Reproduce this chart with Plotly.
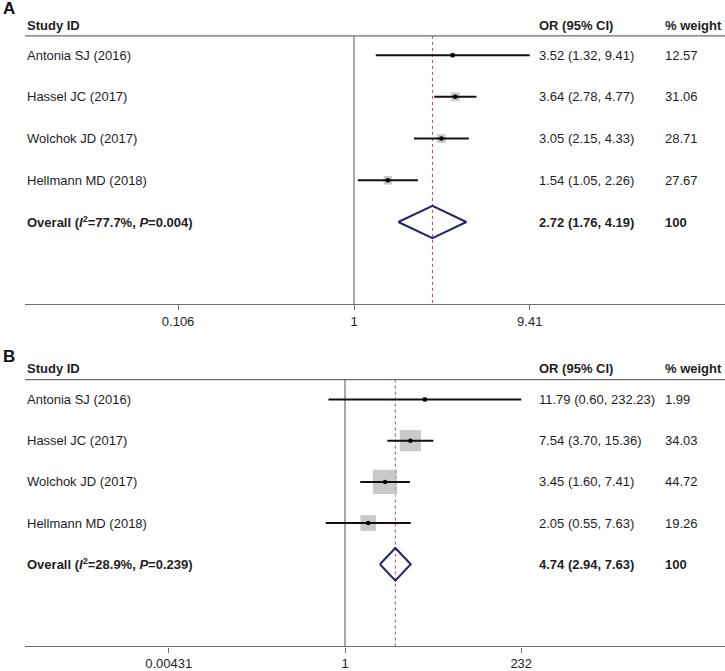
import math
import plotly.graph_objects as go

# ---------------- data ----------------
studies = ["Antonia SJ (2016)", "Hassel JC (2017)", "Wolchok JD (2017)", "Hellmann MD (2018)"]

a_or = [3.52, 3.64, 3.05, 1.54]
a_lo = [1.32, 2.78, 2.15, 1.05]
a_hi = [9.41, 4.77, 4.33, 2.26]
a_wt = [12.57, 31.06, 28.71, 27.67]
a_overall = [2.72, 1.76, 4.19]
a_overall_label = "<b>Overall (<i>I</i><sup>2</sup>=77.7%, <i>P</i>=0.004)</b>"
a_ticks = [0.106, 1, 9.41]
a_ticktext = ["0.106", "1", "9.41"]

b_or = [11.79, 7.54, 3.45, 2.05]
b_lo = [0.60, 3.70, 1.60, 0.55]
b_hi = [232.23, 15.36, 7.41, 7.63]
b_wt = [1.99, 34.03, 44.72, 19.26]
b_overall = [4.74, 2.94, 7.63]
b_overall_label = "<b>Overall (<i>I</i><sup>2</sup>=28.9%, <i>P</i>=0.239)</b>"
b_ticks = [0.00431, 1, 232]
b_ticktext = ["0.00431", "1", "232"]

# ---------------- styling ----------------
W, H = 725, 671
FONT = "Liberation Sans, Arial, sans-serif"
TXT = "#1e1e1e"
FS = 13
GRAY_LINE = "#6e6e6e"
NULL_LINE = "#7a7a7a"
DASH_COL = "#b5485a"
BOX_COL = "#b3b3b3"
DIAM_COL = "#24246e"

fig = go.Figure()

panels = [
    dict(xa="x", ya="y", xr=[-1.8227, 2.0554], yr=[6.967, 0], dom=[1 - 305 / H, 1 - 13.45 / H],
         hdr_text=0.30, hdr_line=0.539, k=1.79, dh=0.386,
         orv=a_or, lo=a_lo, hi=a_hi, wt=a_wt, ov=a_overall, ovl=a_overall_label,
         ticks=a_ticks, ticktext=a_ticktext, letter="A", letter_y=1 - 8.7 / H),
    dict(xa="x2", ya="y2", xr=[-4.2953, 5.1007], yr=[6.993, 0], dom=[1 - 648.3 / H, 1 - 359.4 / H],
         hdr_text=0.257, hdr_line=0.516, k=3.79, dh=0.396,
         orv=b_or, lo=b_lo, hi=b_hi, wt=b_wt, ov=b_overall, ovl=b_overall_label,
         ticks=b_ticks, ticktext=b_ticktext, letter="B", letter_y=1 - 358 / H),
]

annotations = []
shapes = []
layout_axes = {}

for pi, p in enumerate(panels):
    xa, ya = p["xa"], p["ya"]
    rows = list(range(1, len(studies) + 1))
    ov_row = len(studies) + 1
    bottom = p["yr"][0]

    # null line at 1
    fig.add_trace(go.Scatter(x=[1, 1], y=[p["hdr_line"], bottom], mode="lines",
                             line=dict(color=NULL_LINE, width=1.3), xaxis=xa, yaxis=ya,
                             hoverinfo="skip", showlegend=False))
    # overall dashed line
    fig.add_trace(go.Scatter(x=[p["ov"][0], p["ov"][0]], y=[p["hdr_line"], bottom], mode="lines",
                             line=dict(color=DASH_COL, width=1, dash="3px,3px"), xaxis=xa, yaxis=ya,
                             hoverinfo="skip", showlegend=False))
    # weight boxes
    fig.add_trace(go.Scatter(x=p["orv"], y=rows, mode="markers",
                             marker=dict(symbol="square", color=BOX_COL,
                                         size=[p["k"] * math.sqrt(w) for w in p["wt"]]),
                             xaxis=xa, yaxis=ya, hoverinfo="skip", showlegend=False))
    # CI lines
    cx, cy = [], []
    for r, l, h in zip(rows, p["lo"], p["hi"]):
        cx += [l, h, None]
        cy += [r, r, None]
    fig.add_trace(go.Scatter(x=cx, y=cy, mode="lines", line=dict(color="#111111", width=2),
                             xaxis=xa, yaxis=ya, hoverinfo="skip", showlegend=False))
    # point estimates
    fig.add_trace(go.Scatter(x=p["orv"], y=rows, mode="markers",
                             marker=dict(symbol="circle", color="#000000", size=4.5),
                             xaxis=xa, yaxis=ya, hoverinfo="skip", showlegend=False))
    # diamond
    est, dlo, dhi = p["ov"]
    fig.add_trace(go.Scatter(x=[dlo, est, dhi, est, dlo],
                             y=[ov_row, ov_row - p["dh"], ov_row, ov_row + p["dh"], ov_row],
                             mode="lines", line=dict(color=DIAM_COL, width=2),
                             xaxis=xa, yaxis=ya, hoverinfo="skip", showlegend=False))

    axn = "" if pi == 0 else "2"
    xref_dom = f"x{axn} domain"
    yref = f"y{axn}"
    # header line
    shapes.append(dict(type="line", xref=xref_dom, yref=yref, x0=0, x1=1,
                       y0=p["hdr_line"], y1=p["hdr_line"], line=dict(color=GRAY_LINE, width=1.3)))
    # headers
    for txt, xp in (("<b>Study ID</b>", 25), ("<b>OR (95% CI)</b>", 537), ("<b>% weight</b>", 663)):
        annotations.append(dict(text=txt, xref="paper", yref=yref, x=xp / W, y=p["hdr_text"],
                                xanchor="left", yanchor="middle", showarrow=False,
                                font=dict(size=FS, color=TXT, family=FONT)))
    # study rows
    for r, s, o, l, h, w in zip(rows, studies, p["orv"], p["lo"], p["hi"], p["wt"]):
        annotations.append(dict(text=s, xref="paper", yref=yref, x=25 / W, y=r, xanchor="left",
                                yanchor="middle", showarrow=False, font=dict(size=FS, color=TXT, family=FONT)))
        annotations.append(dict(text=f"{o:.2f} ({l:.2f}, {h:.2f})", xref="paper", yref=yref, x=537 / W, y=r,
                                xanchor="left", yanchor="middle", showarrow=False,
                                font=dict(size=FS, color=TXT, family=FONT)))
        annotations.append(dict(text=f"{w:.2f}", xref="paper", yref=yref, x=663 / W, y=r,
                                xanchor="left", yanchor="middle", showarrow=False,
                                font=dict(size=FS, color=TXT, family=FONT)))
    # overall row
    annotations.append(dict(text=p["ovl"], xref="paper", yref=yref, x=25 / W, y=ov_row, xanchor="left",
                            yanchor="middle", showarrow=False, font=dict(size=FS, color=TXT, family=FONT)))
    annotations.append(dict(text=f"<b>{est:.2f} ({dlo:.2f}, {dhi:.2f})</b>", xref="paper", yref=yref,
                            x=537 / W, y=ov_row, xanchor="left", yanchor="middle", showarrow=False,
                            font=dict(size=FS, color=TXT, family=FONT)))
    annotations.append(dict(text="<b>100</b>", xref="paper", yref=yref, x=663 / W, y=ov_row,
                            xanchor="left", yanchor="middle", showarrow=False,
                            font=dict(size=FS, color=TXT, family=FONT)))
    # panel letter
    annotations.append(dict(text=f"<b>{p['letter']}</b>", xref="paper", yref="paper", x=1 / W,
                            y=p["letter_y"], xanchor="left", yanchor="middle", showarrow=False,
                            font=dict(size=17, color="#111111", family=FONT)))

    layout_axes[f"xaxis{axn}"] = dict(
        type="log", range=p["xr"], domain=[25 / W, 1], anchor=f"y{axn}",
        tickvals=p["ticks"], ticktext=p["ticktext"], ticks="outside", ticklen=5,
        tickcolor=GRAY_LINE, showline=True, linecolor=GRAY_LINE, linewidth=1.3,
        showgrid=False, zeroline=False, tickfont=dict(size=FS, color=TXT, family=FONT),
        fixedrange=True)
    layout_axes[f"yaxis{axn}"] = dict(
        range=p["yr"], domain=p["dom"], anchor=f"x{axn}", visible=False,
        showgrid=False, zeroline=False, fixedrange=True)

fig.update_layout(
    width=W, height=H, margin=dict(l=0, r=0, t=0, b=0),
    paper_bgcolor="white", plot_bgcolor="white",
    annotations=annotations, shapes=shapes, showlegend=False,
    font=dict(family=FONT, size=FS, color=TXT),
    **layout_axes,
)

fig.write_html(
    "out.html",
    config={"displayModeBar": False},
    post_script="document.body.style.margin='0';document.body.style.padding='0';"
                "document.documentElement.style.overflow='hidden';",
)
